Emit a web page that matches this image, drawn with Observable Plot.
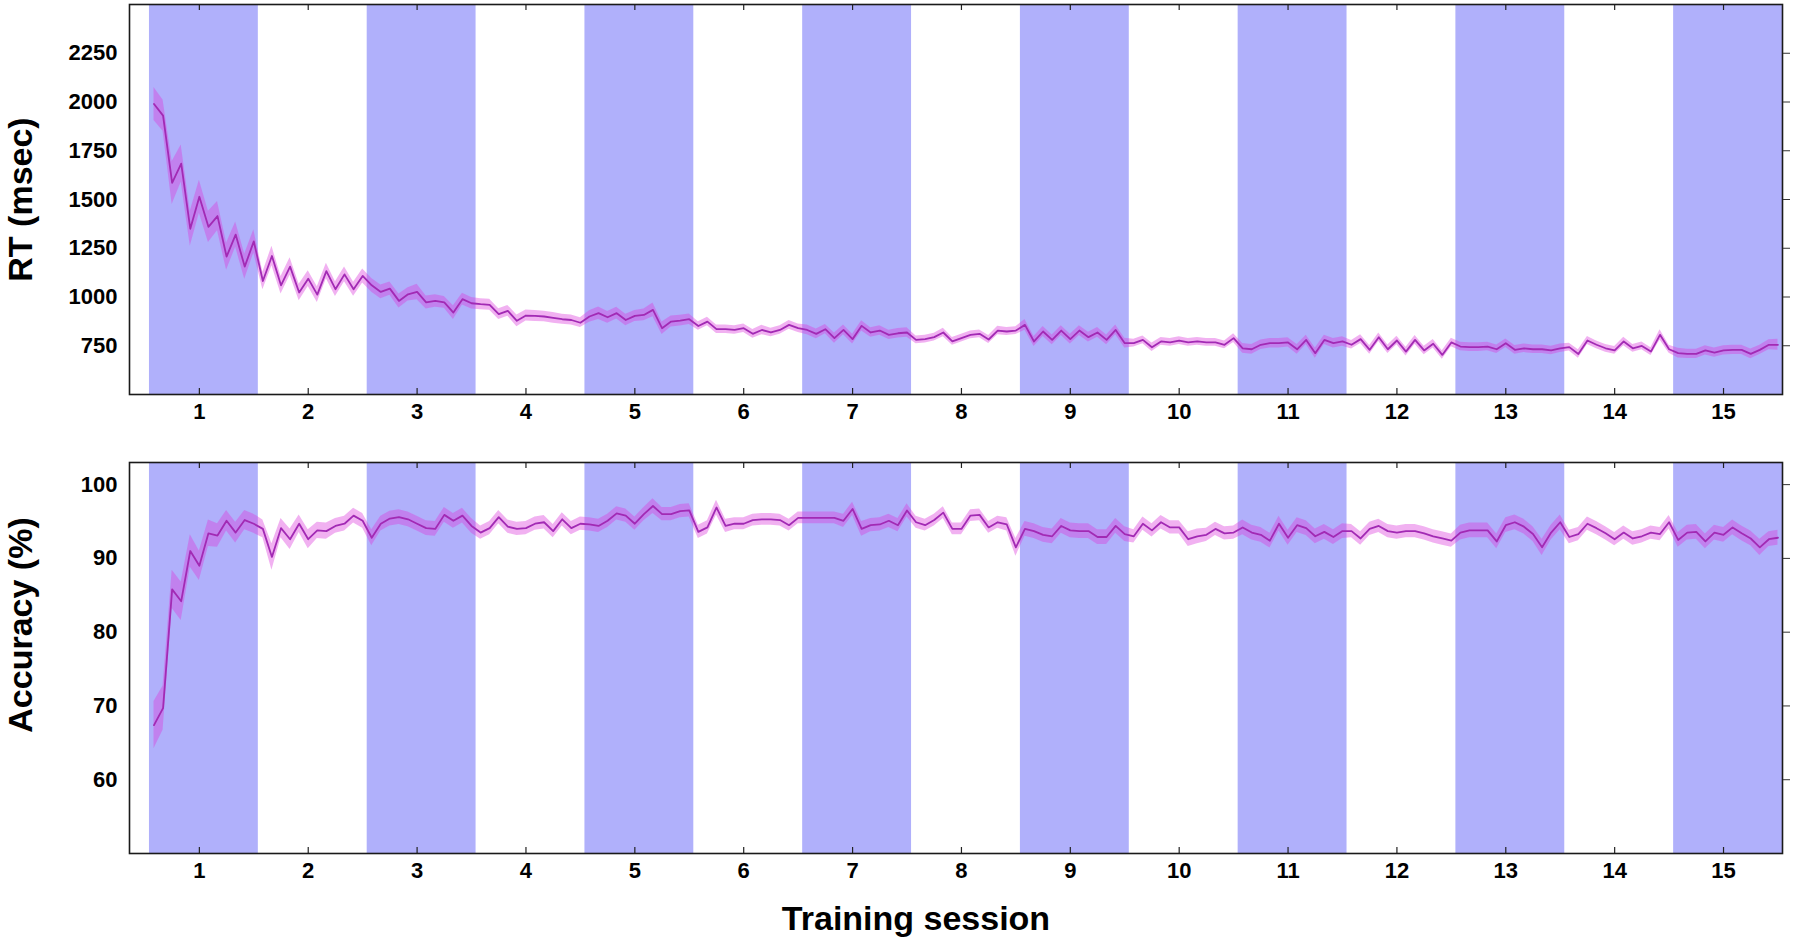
<!DOCTYPE html>
<html>
<head>
<meta charset="utf-8">
<script src="https://cdn.jsdelivr.net/npm/d3@7"></script>
<script src="https://cdn.jsdelivr.net/npm/@observablehq/plot@0.6"></script>
<style>
  html, body { margin: 0; padding: 0; background: #fff; }
  #wrap { position: relative; width: 1796px; height: 939px; overflow: hidden; background: #fff; }
  #panelTop { position: absolute; left: 0; top: 0; }
  #panelBottom { position: absolute; left: 0; top: 440px; }
</style>
</head>
<body>
<div id="wrap"><div id="panelTop"></div><div id="panelBottom"></div></div>
<script>
// ---------- data ----------
const sessions = [1,2,3,4,5,6,7,8,9,10,11,12,13,14,15];
const blocksPerSession = 12;

const rtMean = [
  1990,1930,1585,1684,1350,1514,1360,1415,1207,1320,1156,1285,
  1082,1210,1060,1156,1023,1094,1012,1133,1040,1116,1040,1108,
  1060,1026,1043,980,1014,1026,972,980,972,920,989,968,
  963,960,912,929,878,905,903,900,893,886,882,868,
  900,917,896,917,882,903,908,934,840,874,879,886,
  851,874,835,835,831,840,811,831,818,831,857,840,
  831,811,835,789,831,784,852,818,828,806,814,818,
  780,784,794,818,772,789,806,811,782,828,823,828,
  857,772,823,780,828,784,828,794,818,780,831,763,
  763,780,742,772,767,776,767,772,767,767,755,789,
  737,732,755,763,763,767,732,780,712,780,763,772,
  755,784,729,794,732,777,720,780,726,760,703,767,
  746,743,743,746,732,763,729,737,732,732,726,737,
  743,708,777,755,737,726,772,737,749,720,806,732,
  712,708,708,726,715,726,729,729,708,729,755,755
];
const rtCI = [
  85,80,110,95,90,85,80,75,70,65,65,60,
  45,50,45,45,42,40,40,40,38,38,36,36,
  35,35,34,36,34,40,33,32,30,35,30,30,
  28,28,28,28,30,28,28,27,27,26,26,25,
  30,32,30,30,30,28,30,35,32,28,28,27,
  22,22,22,22,22,22,22,24,22,22,22,22,
  25,25,24,26,25,25,26,24,24,24,24,24,
  20,20,20,22,20,20,20,20,20,22,20,20,
  28,26,26,25,25,25,25,25,25,25,25,25,
  20,20,22,20,20,20,20,20,20,20,20,22,
  25,25,24,24,24,24,25,24,26,24,24,24,
  22,22,22,22,22,22,22,22,22,22,22,22,
  22,22,22,22,22,22,22,22,22,22,22,22,
  20,22,20,20,20,20,22,20,20,20,26,20,
  25,24,24,24,24,24,24,24,25,24,26,28
];
const accMean = [
  67.4,69.7,85.8,84.2,91.0,89.0,93.4,93.1,95.1,93.5,95.2,94.7,
  94.0,90.2,94.1,92.6,94.7,92.6,93.8,93.7,94.4,94.7,95.8,95.1,
  92.8,94.7,95.4,95.6,95.3,94.7,94.1,94.0,95.9,95.1,95.8,94.4,
  93.5,94.1,95.6,94.3,94.0,94.1,94.7,94.9,93.7,95.3,94.1,94.7,
  94.6,94.4,95.1,96.1,95.8,94.7,96.0,97.1,96.0,96.0,96.4,96.5,
  93.6,94.2,96.9,94.4,94.7,94.7,95.2,95.3,95.3,95.2,94.5,95.5,
  95.5,95.5,95.5,95.5,95.1,96.7,94.0,94.5,94.6,95.1,94.5,96.5,
  94.9,94.5,95.2,96.2,94.0,94.0,95.8,95.9,94.2,94.9,94.6,91.5,
  94.0,93.7,93.2,93.0,94.4,93.8,93.7,93.7,92.9,92.9,94.4,93.3,
  93.0,94.7,93.8,94.9,94.2,94.2,92.6,93.0,93.2,94.0,93.4,93.5,
  94.2,93.5,93.2,92.4,94.7,92.8,94.5,94.1,93.0,93.6,92.9,93.7,
  93.7,92.7,94.0,94.4,93.7,93.5,93.7,93.7,93.4,93.0,92.7,92.4,
  93.5,93.8,93.8,93.8,92.3,94.5,94.9,94.3,93.3,91.5,93.5,94.9,
  92.9,93.3,94.7,94.1,93.4,92.6,93.5,92.7,93.0,93.5,93.3,94.9,
  92.5,93.5,93.6,92.3,93.5,93.2,94.2,93.4,92.7,91.5,92.6,92.8
];
const accCI = [
  3.2,3.0,2.6,2.6,2.2,2.0,1.8,1.6,1.4,1.4,1.3,1.3,
  1.2,1.8,1.3,1.4,1.2,1.3,1.1,1.1,1.0,1.0,1.0,1.0,
  1.1,1.0,1.0,1.0,1.0,1.0,1.0,1.0,1.0,1.0,1.0,1.0,
  0.9,0.9,0.9,0.9,0.9,0.9,0.9,0.9,0.9,0.9,0.9,0.9,
  0.9,0.9,0.9,0.9,0.9,0.9,0.9,1.0,0.9,0.9,0.9,0.9,
  0.9,0.9,1.0,0.9,0.8,0.8,0.8,0.8,0.8,0.8,0.8,0.8,
  0.8,0.8,0.8,0.8,0.9,0.9,1.0,0.9,0.9,0.9,0.9,0.9,
  0.8,0.8,0.8,0.8,0.8,0.8,0.8,0.8,0.8,0.8,0.9,1.2,
  1.0,1.0,1.0,1.0,1.0,1.0,1.0,1.0,1.0,1.0,1.0,1.0,
  0.9,0.9,0.9,0.9,0.9,0.9,1.0,1.0,0.9,0.9,0.9,0.9,
  1.0,1.0,1.0,1.0,1.0,1.0,1.0,1.0,1.0,1.0,1.0,1.0,
  0.9,0.9,0.9,0.9,0.9,0.9,0.9,0.9,0.9,0.9,0.9,0.9,
  1.0,1.0,1.0,1.0,1.0,1.0,1.0,1.0,1.0,1.1,1.0,1.0,
  0.9,0.9,0.9,0.9,0.9,0.9,0.9,0.9,0.9,0.9,0.9,0.9,
  1.0,1.0,1.0,1.0,1.0,1.0,1.0,1.0,1.0,1.1,1.0,1.0
];
const rtTicks = [750, 1000, 1250, 1500, 1750, 2000, 2250];
const accTicks = [60, 70, 80, 90, 100];
const rtTitle = "RT (msec)";
const accTitle = "Accuracy (%)";
const xTitle = "Training session";

// ---------- derived tables ----------
const rows = rtMean.map((v, i) => ({
  block: i + 1,
  rt: v, rtLo: v - rtCI[i], rtHi: v + rtCI[i],
  acc: accMean[i], accLo: accMean[i] - accCI[i], accHi: accMean[i] + accCI[i]
}));
const bands = sessions.filter(s => s % 2 === 1).map(s => ({
  x1: (s - 1) * blocksPerSession + 0.5,
  x2: s * blocksPerSession + 0.5
}));
const sessionTickPos = sessions.map(s => (s - 1) * blocksPerSession + blocksPerSession / 2);
const sessionOf = d => Math.round((d - blocksPerSession / 2) / blocksPerSession) + 1;

const FONT = "'Liberation Sans', Arial, Helvetica, sans-serif";
const BAND = "#b0b0fb";
const CIFILL = "#dc3cdc";
const LINE = "#a22ab4";
const X_DOMAIN = [-1.7, 180.5];

function panel({height, marginTop, marginBottom, yDomain, yTicks, key, lo, hi, title, titleDy, extra}) {
  const plotH = height - marginTop - marginBottom;
  return Plot.plot({
    width: 1796, height,
    marginLeft: 129, marginRight: 14, marginTop, marginBottom,
    style: {fontFamily: FONT, background: "#fff", color: "#000"},
    x: {domain: X_DOMAIN, axis: null},
    y: {domain: yDomain, axis: null},
    marks: [
      Plot.rect(bands, {x1: "x1", x2: "x2", fill: BAND}),
      Plot.areaY(rows, {x: "block", y1: lo, y2: hi, fill: CIFILL, fillOpacity: 0.4, curve: "linear"}),
      Plot.line(rows, {x: "block", y: key, stroke: LINE, strokeWidth: 1.8}),
      Plot.tickX(sessionTickPos, {x: d => d, insetTop: plotH - 6, stroke: "#222", strokeWidth: 1.2}),
      Plot.tickX(sessionTickPos, {x: d => d, insetBottom: plotH - 6, stroke: "#222", strokeWidth: 1.2}),
      Plot.frame({stroke: "#1a1a1a", strokeWidth: 1.6}),
      Plot.axisY(yTicks, {anchor: "left", tickSize: 0, tickPadding: 12, fontSize: 22, fontWeight: "bold",
        tickFormat: d => String(d), label: null}),
      Plot.axisY(yTicks, {anchor: "right", tickSize: 7, tickFormat: () => "", label: null, stroke: "#333"}),
      Plot.axisX(sessionTickPos, {anchor: "bottom", tickSize: 0, tickPadding: 9, fontSize: 22, fontWeight: "bold",
        tickFormat: d => String(sessionOf(d)), label: null}),
      Plot.text([title], {frameAnchor: "left", dx: -108, dy: titleDy, rotate: -90, text: d => d,
        fontSize: 34, fontWeight: "bold", textAnchor: "middle", lineAnchor: "middle", fill: "#000"}),
      ...(extra || [])
    ]
  });
}

const rtPlot = panel({
  height: 440, marginTop: 4, marginBottom: 46,
  yDomain: [500, 2500], yTicks: rtTicks,
  key: "rt", lo: "rtLo", hi: "rtHi", title: rtTitle, titleDy: 0
});
const accPlot = panel({
  height: 499, marginTop: 22, marginBottom: 86,
  yDomain: [50, 103], yTicks: accTicks,
  key: "acc", lo: "accLo", hi: "accHi", title: accTitle, titleDy: -33,
  extra: [
    Plot.text([xTitle], {frameAnchor: "bottom", dx: -40, dy: 66, text: d => d, fontSize: 34, fontWeight: "bold",
      textAnchor: "middle", lineAnchor: "middle", fill: "#000"})
  ]
});
document.getElementById("panelTop").appendChild(rtPlot);
document.getElementById("panelBottom").appendChild(accPlot);
</script>
</body>
</html>
